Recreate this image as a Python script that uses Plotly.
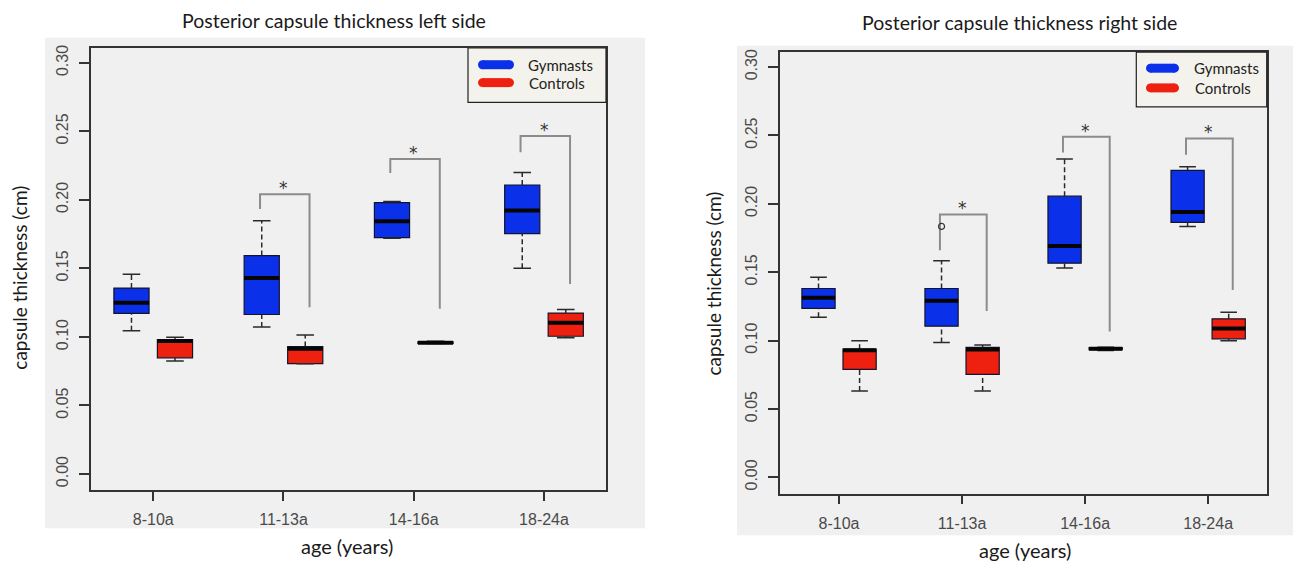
import plotly.graph_objects as go

W, H = 1301, 564
# the page body keeps its default 8px margin, so the figure is drawn 8px right and down
SHIFT = 8

categories = ["8-10a", "11-13a", "14-16a", "18-24a"]
y_ticks = [0.00, 0.05, 0.10, 0.15, 0.20, 0.25, 0.30]

# ---- left side (five-number summaries) ----
left_gym_lf = [0.1046, 0.1072, 0.1720, 0.1502]
left_gym_q1 = [0.1172, 0.1164, 0.1725, 0.1754]
left_gym_med = [0.1249, 0.1430, 0.1845, 0.1923]
left_gym_q3 = [0.1357, 0.1594, 0.1980, 0.2109]
left_gym_uf = [0.1457, 0.1848, 0.1988, 0.2200]

left_con_lf = [0.0824, 0.0804, 0.0952, 0.0995]
left_con_q1 = [0.0848, 0.0806, 0.0953, 0.1005]
left_con_med = [0.0970, 0.0913, 0.0958, 0.1104]
left_con_q3 = [0.0981, 0.0930, 0.0965, 0.1174]
left_con_uf = [0.0998, 0.1014, 0.0968, 0.1200]

# significance brackets for 11-13a, 14-16a, 18-24a
left_br_cat = [2, 3, 4]
left_br_left_low = [0.1933, 0.2196, 0.2348]
left_br_top = [0.2041, 0.2299, 0.2466]
left_br_right_low = [0.1217, 0.1205, 0.1386]

# ---- right side ----
right_gym_lf = [0.1170, 0.0986, 0.1530, 0.1835]
right_gym_q1 = [0.1236, 0.1105, 0.1566, 0.1865]
right_gym_med = [0.1314, 0.1292, 0.1692, 0.1940]
right_gym_q3 = [0.1381, 0.1381, 0.2056, 0.2245]
right_gym_uf = [0.1464, 0.1583, 0.2328, 0.2272]
right_gym_outlier_cat = [2]
right_gym_outlier_val = [0.1835]

right_con_lf = [0.0632, 0.0632, 0.0928, 0.0998]
right_con_q1 = [0.0790, 0.0753, 0.0933, 0.1013]
right_con_med = [0.0930, 0.0935, 0.0940, 0.1088]
right_con_q3 = [0.0937, 0.0950, 0.0948, 0.1159]
right_con_uf = [0.0998, 0.0967, 0.0952, 0.1207]

right_br_cat = [2, 3, 4]
right_br_left_low = [0.1661, 0.2376, 0.2360]
right_br_top = [0.1923, 0.2491, 0.2478]
right_br_right_low = [0.1217, 0.1066, 0.1370]

BLUE = "#0b30ea"
RED = "#ee2010"
OFF = 0.167
BOXW = 0.27
CAPW = 0.135
TEXT_FONT = "Lato"
TICK_FONT = "Liberation Sans"


def px(x):
    return (x - SHIFT) / W


def py(y):
    return 1 - (y - SHIFT) / H


fig = go.Figure()


def add_group(xa, ya, cats, lf, q1, med, q3, uf, color, sign):
    pos = [c + sign * OFF for c in cats]
    fig.add_trace(go.Box(
        x=pos, q1=q1, median=med, q3=q3, lowerfence=q1, upperfence=q3,
        width=BOXW, whiskerwidth=0, fillcolor=color,
        line=dict(color="#141428", width=1.2), boxpoints=False,
        showlegend=False, hoverinfo="skip", xaxis=xa, yaxis=ya))
    # dashed whiskers
    wx, wy = [], []
    for p, a, b, c, d in zip(pos, lf, q1, q3, uf):
        wx += [p, p, None, p, p, None]
        wy += [a, b, None, c, d, None]
    fig.add_trace(go.Scatter(x=wx, y=wy, mode="lines",
                             line=dict(color="#2a2a2a", width=1.5, dash="5px,3px"),
                             showlegend=False, hoverinfo="skip", xaxis=xa, yaxis=ya))
    # caps
    cx, cy = [], []
    for p, a, d in zip(pos, lf, uf):
        cx += [p - CAPW / 2, p + CAPW / 2, None, p - CAPW / 2, p + CAPW / 2, None]
        cy += [a, a, None, d, d, None]
    fig.add_trace(go.Scatter(x=cx, y=cy, mode="lines",
                             line=dict(color="#2a2a2a", width=1.5),
                             showlegend=False, hoverinfo="skip", xaxis=xa, yaxis=ya))
    # thick medians
    mx, my = [], []
    for p, m in zip(pos, med):
        mx += [p - BOXW / 2, p + BOXW / 2, None]
        my += [m, m, None]
    fig.add_trace(go.Scatter(x=mx, y=my, mode="lines",
                             line=dict(color="#050505", width=4),
                             showlegend=False, hoverinfo="skip", xaxis=xa, yaxis=ya))


def add_brackets(xa, ya, cats, llow, top, rlow):
    bx, by = [], []
    for c, a, t, b in zip(cats, llow, top, rlow):
        bx += [c - 0.18, c - 0.18, c + 0.2, c + 0.2, None]
        by += [a, t, t, b, None]
    fig.add_trace(go.Scatter(x=bx, y=by, mode="lines",
                             line=dict(color="#8c8c8c", width=2),
                             showlegend=False, hoverinfo="skip", xaxis=xa, yaxis=ya))
    for c, t in zip(cats, top):
        fig.add_annotation(x=c, y=t, xref=xa, yref=ya, text="*", showarrow=False,
                           yanchor="bottom", yshift=-6,
                           font=dict(family="DejaVu Sans", size=17, color="#333"))


cat_pos = [1, 2, 3, 4]

# left panel
add_group("x", "y", cat_pos, left_gym_lf, left_gym_q1, left_gym_med, left_gym_q3, left_gym_uf, BLUE, -1)
add_group("x", "y", cat_pos, left_con_lf, left_con_q1, left_con_med, left_con_q3, left_con_uf, RED, 1)
add_brackets("x", "y", left_br_cat, left_br_left_low, left_br_top, left_br_right_low)

# right panel
add_group("x2", "y2", cat_pos, right_gym_lf, right_gym_q1, right_gym_med, right_gym_q3, right_gym_uf, BLUE, -1)
add_group("x2", "y2", cat_pos, right_con_lf, right_con_q1, right_con_med, right_con_q3, right_con_uf, RED, 1)
add_brackets("x2", "y2", right_br_cat, right_br_left_low, right_br_top, right_br_right_low)
fig.add_trace(go.Scatter(x=[c - OFF for c in right_gym_outlier_cat], y=right_gym_outlier_val,
                         mode="markers",
                         marker=dict(symbol="circle-open", size=6, color="#333", line=dict(width=1.2)),
                         showlegend=False, hoverinfo="skip", xaxis="x2", yaxis="y2"))

axis_common = dict(showline=True, linecolor="#333", linewidth=1.5, mirror=True,
                   ticks="outside", tickcolor="#333", tickwidth=1.5,
                   showgrid=False, zeroline=False,
                   tickfont=dict(family=TICK_FONT, size=16, color="#4a4a4a"))

xr = [0.52, 4.476]
yr = [-0.012, 0.311]

fig.update_layout(
    width=W, height=H,
    margin=dict(l=0, r=0, t=0, b=0),
    paper_bgcolor="white",
    plot_bgcolor="#f0f0f0",
    boxmode="overlay",
    xaxis=dict(domain=[px(90.7), px(606)], range=xr, tickvals=cat_pos, ticktext=categories,
               ticklen=9, ticklabelstandoff=5, anchor="y", **axis_common),
    yaxis=dict(domain=[py(490), py(45)], range=yr, tickvals=y_ticks, tickformat=".2f",
               ticklen=10, tickangle=-90, ticklabelstandoff=5, anchor="x", **axis_common),
    xaxis2=dict(domain=[px(780), px(1266.7)], range=xr, tickvals=cat_pos, ticktext=categories,
                ticklen=9, ticklabelstandoff=5, anchor="y2", **axis_common),
    yaxis2=dict(domain=[py(493.3), py(49.3)], range=yr, tickvals=y_ticks, tickformat=".2f",
                ticklen=10, tickangle=-90, ticklabelstandoff=5, anchor="x2", **axis_common),
)

shapes = []
# grey panel backgrounds
for (x0, y0, x1, y1) in [(45, 35, 645, 528), (737, 43, 1320, 535)]:
    shapes.append(dict(type="rect", xref="paper", yref="paper", x0=px(x0), x1=px(x1),
                       y0=py(y1), y1=py(y0), fillcolor="#f0f0f0", line=dict(width=0), layer="below"))

# legend boxes
legends = [
    dict(box=(468, 45, 606, 99.8), sw=(478, 514), rows=[(62, "Gymnasts", 526, BLUE), (80, "Controls", 527, RED)]),
    dict(box=(1136.3, 49.3, 1266.7, 104.4), sw=(1146, 1179), rows=[(65.5, "Gymnasts", 1192, BLUE), (85.3, "Controls", 1193, RED)]),
]
for lg in legends:
    x0, y0, x1, y1 = lg["box"]
    shapes.append(dict(type="rect", xref="paper", yref="paper", x0=px(x0), x1=px(x1),
                       y0=py(y1), y1=py(y0), fillcolor="#f4f2ec", line=dict(color="#222", width=1.2)))
    s0, s1 = lg["sw"]
    for (yy, label, tx, col) in lg["rows"]:
        r = 4.5
        shapes.append(dict(type="line", xref="paper", yref="paper", x0=px(s0 + r), x1=px(s1 - r),
                           y0=py(yy), y1=py(yy), line=dict(color=col, width=9)))
        for cx in (s0 + r, s1 - r):
            shapes.append(dict(type="circle", xref="paper", yref="paper",
                               x0=px(cx - r), x1=px(cx + r), y0=py(yy + r), y1=py(yy - r),
                               fillcolor=col, line=dict(width=0)))
        fig.add_annotation(x=px(tx), y=py(yy), xref="paper", yref="paper", text=label,
                           showarrow=False, xanchor="left", yanchor="middle",
                           font=dict(family=TEXT_FONT, size=15, color="#222"))

fig.update_layout(shapes=shapes)

# titles and axis titles
texts = [
    ("Posterior capsule thickness left side", 334, 18, 19.5, 0),
    ("Posterior capsule thickness right side", 1019, 19.3, 19.5, 0),
    ("age (years)", 347, 546, 20, 0),
    ("age (years)", 1024.6, 550, 20, 0),
    ("capsule thickness (cm)", 18.6, 276.5, 19, -90),
    ("capsule thickness (cm)", 714, 282, 19, -90),
]
for t, x, y, s, ang in texts:
    fig.add_annotation(x=px(x), y=py(y), xref="paper", yref="paper", text=t, showarrow=False,
                       xanchor="center", yanchor="middle", textangle=ang,
                       font=dict(family=TEXT_FONT, size=s, color="#1a1a1a"))

fig.write_html("out.html")
